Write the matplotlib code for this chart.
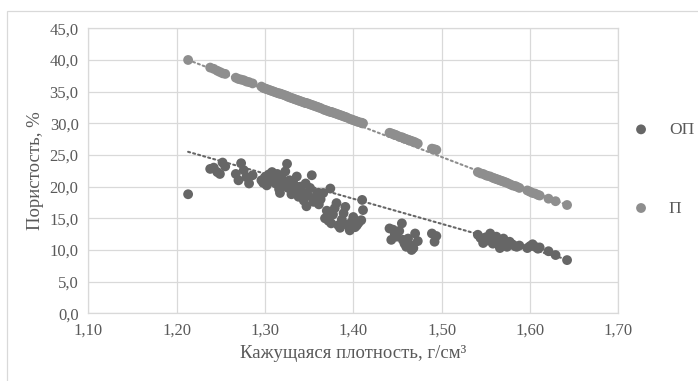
import numpy as np
import matplotlib
matplotlib.use('Agg')
import matplotlib.pyplot as plt
from matplotlib.patches import Rectangle

# кажущаяся плотность, г/см3
density = [1.213, 1.238, 1.242, 1.246, 1.249, 1.252, 1.255,
           1.267, 1.270, 1.273, 1.276, 1.279, 1.282, 1.286,
           1.296, 1.298, 1.300, 1.302, 1.304, 1.306, 1.308, 1.310, 1.312, 1.314,
           1.316, 1.317, 1.319, 1.321, 1.323, 1.325, 1.326, 1.328, 1.330, 1.332,
           1.334, 1.336, 1.338, 1.340, 1.342, 1.344, 1.346, 1.347, 1.349, 1.351,
           1.353, 1.355, 1.357, 1.359, 1.361, 1.363, 1.366, 1.368, 1.370, 1.372,
           1.374, 1.375, 1.377, 1.379, 1.381, 1.383, 1.385, 1.387, 1.389, 1.391,
           1.393, 1.396, 1.398, 1.400, 1.402, 1.404, 1.406, 1.409, 1.410, 1.411,
           1.441, 1.443, 1.445, 1.447, 1.449, 1.452, 1.455, 1.456, 1.458, 1.460,
           1.462, 1.464, 1.466, 1.468, 1.470, 1.473,
           1.489, 1.492, 1.494,
           1.541, 1.544, 1.547, 1.550, 1.552, 1.555, 1.558, 1.560, 1.562, 1.564,
           1.566, 1.568, 1.570, 1.572, 1.574, 1.577, 1.580, 1.583, 1.585, 1.588,
           1.597, 1.600, 1.603, 1.606, 1.609, 1.611,
           1.621, 1.629, 1.642]

# открытая пористость, %
op = [18.8, 22.8, 23.0, 22.3, 22.0, 23.8, 23.2,
      22.0, 21.0, 23.7, 22.6, 21.5, 20.5, 21.8,
      21.0, 20.6, 21.5, 20.2, 21.9, 20.8, 22.3, 21.2, 20.5, 22.0,
      19.6, 19.0, 21.4, 20.3, 22.4, 23.6, 19.8, 21.0, 18.8, 20.6,
      19.4, 21.6, 18.4, 20.0, 19.2, 17.8, 20.5, 16.9, 18.6, 19.8,
      21.8, 17.6, 18.2, 19.0, 17.2, 18.0, 19.0, 15.0, 16.2, 14.6,
      19.7, 14.2, 15.6, 16.6, 17.4, 13.9, 13.5, 14.8, 15.8, 16.8,
      14.0, 13.1, 14.4, 15.2, 13.6, 13.9, 14.3, 14.7, 17.9, 16.3,
      13.4, 11.6, 13.2, 12.4, 12.1, 13.0, 14.2, 11.6, 11.0, 10.5,
      11.8, 10.8, 10.0, 10.3, 12.6, 11.4,
      12.6, 11.3, 12.2,
      12.4, 11.9, 11.1, 12.0, 11.5, 12.6, 11.0, 11.8, 12.1, 10.9,
      10.3, 11.4, 11.8, 10.8, 10.5, 11.3, 10.9, 10.6, 10.5, 10.7,
      10.3, 10.6, 10.9, 10.5, 10.2, 10.4,
      9.8, 9.2, 8.4]

# общая пористость, %
p = [40.0, 38.8, 38.6, 38.3, 38.1, 37.9, 37.8,
     37.2, 37.0, 36.9, 36.8, 36.6, 36.5, 36.3,
     35.8, 35.6, 35.5, 35.4, 35.3, 35.2, 35.1, 35.0, 34.9, 34.8,
     34.7, 34.7, 34.6, 34.5, 34.4, 34.3, 34.2, 34.1, 34.0, 33.9,
     33.8, 33.7, 33.6, 33.5, 33.4, 33.3, 33.2, 33.2, 33.1, 33.0,
     32.9, 32.8, 32.7, 32.6, 32.5, 32.4, 32.2, 32.1, 32.0, 31.9,
     31.8, 31.8, 31.7, 31.6, 31.5, 31.4, 31.3, 31.2, 31.1, 31.0,
     30.9, 30.7, 30.6, 30.5, 30.4, 30.3, 30.2, 30.1, 30.0, 30.0,
     28.5, 28.4, 28.3, 28.2, 28.1, 27.9, 27.8, 27.7, 27.6, 27.5,
     27.4, 27.3, 27.2, 27.1, 27.0, 26.8,
     26.0, 25.9, 25.8,
     22.3, 22.1, 22.0, 21.8, 21.7, 21.6, 21.4, 21.3, 21.2, 21.1,
     21.0, 20.9, 20.8, 20.7, 20.6, 20.4, 20.2, 20.1, 20.0, 19.8,
     19.4, 19.2, 19.0, 18.9, 18.7, 18.6,
     18.1, 17.7, 17.1]

# линии тренда (значения на концах)
trend_x = [1.213, 1.642]
op_trend = [25.5, 8.5]
p_trend = [40.0, 17.1]

x_ticks = [1.10, 1.20, 1.30, 1.40, 1.50, 1.60, 1.70]
y_ticks = [0, 5, 10, 15, 20, 25, 30, 35, 40, 45]

plt.rcParams['font.family'] = ['Liberation Serif', 'DejaVu Serif']

fig = plt.figure(figsize=(6.98, 3.81), dpi=100)
ax = fig.add_axes([0.1265, 0.1777, 0.7593, 0.748])

fig.patches.append(Rectangle((0.0103, -0.1), 1.2, 1.071, transform=fig.transFigure,
                             fill=False, edgecolor='#d9d9d9', linewidth=0.9))

c_op = '#666666'
c_p = '#8e8e8e'

for vals, tr, col, lab in [(op, op_trend, c_op, 'ОП'), (p, p_trend, c_p, 'П')]:
    ax.scatter(density, vals, s=50, color=col, edgecolors='none', label=lab, zorder=3)
    ax.plot(trend_x, tr, linestyle=(0, (1, 1.5)), color=col, linewidth=1.5,
            zorder=2, dash_capstyle='round')

ax.set_xlim(1.10, 1.70)
ax.set_ylim(0, 45)
ax.set_xticks(x_ticks)
ax.set_yticks(y_ticks)
ax.set_xticklabels([f'{v:.2f}'.replace('.', ',') for v in x_ticks])
ax.set_yticklabels([f'{v:.1f}'.replace('.', ',') for v in y_ticks])
ax.tick_params(length=0, labelsize=12, labelcolor='#595959')
ax.tick_params(axis='y', pad=7)
ax.tick_params(axis='x', pad=7)
ax.grid(True, color='#d9d9d9', linewidth=0.9)
ax.set_axisbelow(True)
for s in ax.spines.values():
    s.set_color('#d9d9d9')
    s.set_linewidth(0.9)

ax.set_xlabel('Кажущаяся плотность, г/см³', fontsize=13.5, color='#595959', labelpad=4)
ax.set_ylabel('Пористость, %', fontsize=13.5, color='#595959', labelpad=4)

fig.legend(loc='center left', bbox_to_anchor=(0.896, 0.556), frameon=False,
           fontsize=12.5, labelspacing=3.6, handlelength=0.8, handletextpad=1.2,
           borderpad=0, labelcolor='#595959', scatterpoints=1)

fig.savefig('out.png', dpi=100)
